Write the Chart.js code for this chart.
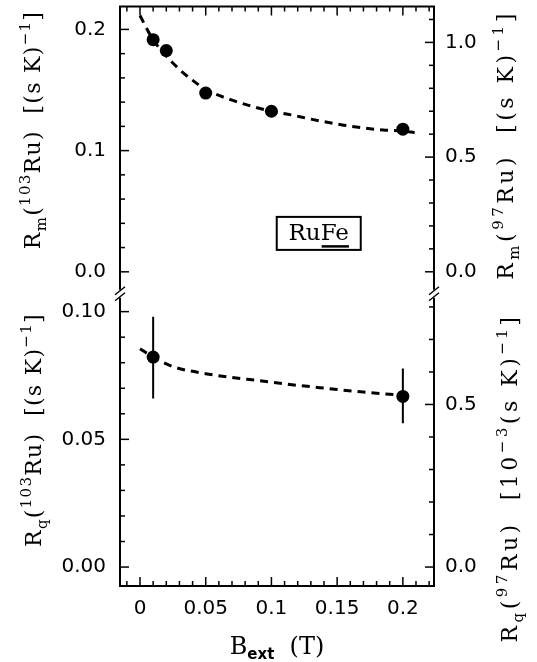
<!DOCTYPE html>
<html>
<head>
<meta charset="utf-8">
<script src="https://cdn.jsdelivr.net/npm/chart.js@4.4.1/dist/chart.umd.min.js"></script>
<style>
html, body { margin: 0; padding: 0; background: #fff; }
#wrap { position: relative; width: 537px; height: 662px; }
</style>
</head>
<body>
<div id="wrap"><canvas id="myChart"></canvas></div>
<script>
// upper panel: R_m(103Ru), measured points
var bM = [0.01, 0.02, 0.05, 0.1, 0.2];
var rM = [0.1915, 0.1825, 0.1475, 0.1325, 0.1177];
// upper panel: dashed fit curve
var fitBM = [0, 0.004, 0.01, 0.02, 0.03, 0.04, 0.05, 0.07, 0.085, 0.1, 0.115, 0.13, 0.155, 0.185, 0.2, 0.209];
var fitRM = [0.2115, 0.203, 0.1915, 0.178, 0.167, 0.158, 0.1505, 0.1416, 0.1366, 0.1325, 0.1295, 0.126, 0.121, 0.117, 0.1162, 0.1148];

// lower panel: R_q(103Ru), measured points with error bars
var bQ = [0.01, 0.2];
var rQ = [0.0822, 0.0668];
var rQlow = [0.066, 0.0563];
var rQhigh = [0.098, 0.0777];
// lower panel: dashed fit curve
var fitBQ = [0, 0.01, 0.025, 0.05, 0.07, 0.09, 0.11, 0.13, 0.15, 0.17, 0.2, 0.207];
var fitRQ = [0.0855, 0.0822, 0.0785, 0.0757, 0.0742, 0.073, 0.0717, 0.0706, 0.0695, 0.0685, 0.0673, 0.0671];

// tick labels
var xTicks = [0, 0.05, 0.1, 0.15, 0.2];
var xTickLabels = ["0", "0.05", "0.1", "0.15", "0.2"];
var yTLTicks = [0, 0.1, 0.2];
var yTLLabels = ["0.0", "0.1", "0.2"];
var yTRTicks = [0, 0.5, 1.0];
var yTRLabels = ["0.0", "0.5", "1.0"];
var yBLTicks = [0, 0.05, 0.1];
var yBLLabels = ["0.00", "0.05", "0.10"];
var yBRTicks = [0, 0.5];
var yBRLabels = ["0.0", "0.5"];

function pts(xs, ys) {
    return xs.map(function (x, i) { return { x: x, y: ys[i] }; });
}
function errPts(xs, lo, hi) {
    var out = [];
    xs.forEach(function (x, i) {
        out.push({ x: x, y: lo[i] }, { x: x, y: hi[i] }, { x: x, y: null });
    });
    return out;
}
function fixedTicks(vals, labels) {
    return {
        afterBuildTicks: function (s) { s.ticks = vals.map(function (v) { return { value: v }; }); },
        callback: function (v) { var i = vals.indexOf(v); return i < 0 ? "" : labels[i]; }
    };
}

var tickFont = { family: "DejaVu Sans", size: 20 };
var serif = "DejaVu Serif";

function yAxis(pos, stackWeight, min, max, vals, labels, pad) {
    var ft = fixedTicks(vals, labels);
    return {
        type: "linear", position: pos, stack: "panels", stackWeight: stackWeight,
        min: min, max: max,
        grid: { display: false, drawTicks: false },
        border: { display: false },
        afterBuildTicks: ft.afterBuildTicks,
        afterFit: function (s) {
            s.width = pos === "left" ? 120 : 103;
            s.paddingTop = 0; s.paddingBottom = 0;
        },
        ticks: { font: tickFont, color: "#000", padding: pad, callback: ft.callback }
    };
}

// little helpers for the plugin
function steps(min, max, step) {
    var out = [];
    for (var k = Math.ceil(min / step - 1e-6); k * step <= max + 1e-9; k++) out.push(Math.round(k * step * 1e6) / 1e6);
    return out;
}
function line(ctx, x1, y1, x2, y2) {
    ctx.beginPath(); ctx.moveTo(x1, y1); ctx.lineTo(x2, y2); ctx.stroke();
}
function drawRich(ctx, runs, px, py, size, spacing) {
    ctx.save();
    ctx.translate(px, py);
    ctx.rotate(-Math.PI / 2);
    var small = Math.round(size * 0.66);
    function fontOf(k) {
        if (k === "b") return "bold " + small + "px 'DejaVu Sans'";
        return (k === "n" ? size : small) + "px '" + serif + "'";
    }
    function dyOf(k) { return k === "sub" || k === "b" ? size * 0.28 : (k === "sup" ? -size * 0.45 : 0); }
    var total = 0;
    runs.forEach(function (r) {
        ctx.font = fontOf(r[1]);
        for (var c of r[0]) total += ctx.measureText(c).width + spacing;
    });
    var x = -total / 2;
    ctx.fillStyle = "#000";
    ctx.textBaseline = "alphabetic";
    runs.forEach(function (r) {
        ctx.font = fontOf(r[1]);
        for (var c of r[0]) {
            ctx.fillText(c, x, dyOf(r[1]));
            x += ctx.measureText(c).width + spacing;
        }
    });
    ctx.restore();
}

var framePlugin = {
    id: "frame",
    afterDraw: function (chart) {
        var ctx = chart.ctx, a = chart.chartArea, sc = chart.scales;
        var split = sc.yTL.bottom;
        ctx.save();
        ctx.strokeStyle = "#000";
        ctx.lineCap = "butt";
        // frame
        ctx.lineWidth = 2;
        line(ctx, a.left - 1, a.top, a.right + 1, a.top);
        line(ctx, a.left - 1, a.bottom, a.right + 1, a.bottom);
        [a.left, a.right].forEach(function (x) {
            line(ctx, x, a.top, x, split - 4);
            line(ctx, x, split + 4, x, a.bottom);
            ctx.lineWidth = 1.5;
            line(ctx, x - 5, split + 1, x + 5, split - 7);
            line(ctx, x - 5, split + 7, x + 5, split - 1);
            ctx.lineWidth = 2;
        });
        // x ticks, top and bottom
        ctx.lineWidth = 1.5;
        steps(sc.x.min, sc.x.max, 0.01).forEach(function (v) {
            var px = sc.x.getPixelForValue(v);
            var len = xTicks.some(function (t) { return Math.abs(t - v) < 1e-6; }) ? 9 : 5;
            line(ctx, px, a.top, px, a.top + len);
            line(ctx, px, a.bottom, px, a.bottom - len);
        });
        // y ticks, pointing inward
        [["yTL", 0.02, yTLTicks, a.left, 1], ["yTR", 0.1, yTRTicks, a.right, -1],
         ["yBL", 0.01, yBLTicks, a.left, 1], ["yBR", 0.1, yBRTicks, a.right, -1]].forEach(function (d) {
            var s = sc[d[0]];
            steps(s.min, s.max, d[1]).forEach(function (v) {
                var py = s.getPixelForValue(v);
                if (py < s.top + 2 || py > s.bottom - 2) return;
                var len = d[2].some(function (t) { return Math.abs(t - v) < 1e-6; }) ? 9 : 5;
                line(ctx, d[3], py, d[3] + d[4] * len, py);
            });
        });
        // RuFe label box
        var bx = sc.x.getPixelForValue(0.136), by = sc.yTL.getPixelForValue(0.0317);
        ctx.lineWidth = 2;
        ctx.strokeRect(bx - 42, by - 16.5, 84, 33);
        ctx.font = "23px '" + serif + "'";
        ctx.fillStyle = "#000";
        ctx.textBaseline = "alphabetic";
        ctx.textAlign = "left";
        var wRu = ctx.measureText("Ru").width, wFe = ctx.measureText("Fe").width;
        var tx = bx - (wRu + wFe) / 2;
        ctx.fillText("Ru", tx, by + 7);
        ctx.fillText("Fe", tx + wRu, by + 7);
        ctx.lineWidth = 2.5;
        line(ctx, tx + wRu + 1, by + 13, tx + wRu + wFe, by + 13);
        // axis titles
        drawRich(ctx, [["R", "n"], ["m", "sub"], ["(", "n"], ["103", "sup"], ["Ru)  [(s K)", "n"], ["\u22121", "sup"], ["]", "n"]], 40, 130, 22, 1.3);
        drawRich(ctx, [["R", "n"], ["q", "sub"], ["(", "n"], ["103", "sup"], ["Ru)  [(s K)", "n"], ["\u22121", "sup"], ["]", "n"]], 41, 430, 22, 1.3);
        drawRich(ctx, [["R", "n"], ["m", "sub"], ["(", "n"], ["97", "sup"], ["Ru)  [(s K)", "n"], ["\u22121", "sup"], ["]", "n"]], 513, 145, 22, 3.5);
        drawRich(ctx, [["R", "n"], ["q", "sub"], ["(", "n"], ["97", "sup"], ["Ru)  [10", "n"], ["\u22123", "sup"], ["(s K)", "n"], ["\u22121", "sup"], ["]", "n"]], 517, 478, 22, 3.5);
        ctx.restore();
        // x title
        ctx.save();
        ctx.fillStyle = "#000";
        ctx.textBaseline = "alphabetic";
        ctx.font = "24px '" + serif + "'";
        var wB = ctx.measureText("B").width, wT = ctx.measureText("  (T)").width;
        ctx.font = "bold 15px 'DejaVu Sans'";
        var wE = ctx.measureText("ext").width;
        var sx = 277 - (wB + wE + wT) / 2;
        ctx.font = "24px '" + serif + "'";
        ctx.fillText("B", sx, 654);
        ctx.fillText("  (T)", sx + wB + wE, 654);
        ctx.font = "bold 15px 'DejaVu Sans'";
        ctx.fillText("ext", sx + wB, 659);
        ctx.restore();
    }
};

var ctx = document.getElementById("myChart");
var myChart = new Chart(ctx, {
    type: "line",
    data: {
        datasets: [
            {
                data: pts(fitBM, fitRM), yAxisID: "yTL",
                borderColor: "#000", borderWidth: 3, borderDash: [8, 6],
                pointRadius: 0, cubicInterpolationMode: "monotone"
            },
            {
                data: pts(bM, rM), yAxisID: "yTL", showLine: false,
                pointRadius: 6.5, pointBackgroundColor: "#000", pointBorderWidth: 0
            },
            {
                data: pts(fitBQ, fitRQ), yAxisID: "yBL",
                borderColor: "#000", borderWidth: 3, borderDash: [8, 6],
                pointRadius: 0, cubicInterpolationMode: "monotone"
            },
            {
                data: errPts(bQ, rQlow, rQhigh), yAxisID: "yBL",
                borderColor: "#000", borderWidth: 2, pointRadius: 0, spanGaps: false
            },
            {
                data: pts(bQ, rQ), yAxisID: "yBL", showLine: false,
                pointRadius: 6.5, pointBackgroundColor: "#000", pointBorderWidth: 0
            }
        ]
    },
    options: {
        responsive: true,
        maintainAspectRatio: false,
        animation: false,
        layout: { padding: { top: 5, left: 0, right: 0, bottom: 0 } },
        plugins: { legend: { display: false }, tooltip: { enabled: false } },
        scales: {
            x: {
                type: "linear", position: "bottom", min: -0.01522, max: 0.2237,
                grid: { display: false, drawTicks: false },
                border: { display: false },
                afterBuildTicks: fixedTicks(xTicks, xTickLabels).afterBuildTicks,
                afterFit: function (s) { s.height = 76; s.paddingLeft = 0; s.paddingRight = 0; },
                ticks: { font: tickFont, color: "#000", padding: 11, maxRotation: 0,
                         callback: fixedTicks(xTicks, xTickLabels).callback }
            },
            yBL: yAxis("left", 293, -0.00742, 0.1070, yBLTicks, yBLLabels, 14),
            yTL: yAxis("left", 288, -0.0181, 0.2189, yTLTicks, yTLLabels, 14),
            yTR: yAxis("right", 288, -0.0957, 1.1565, yTRTicks, yTRLabels, 11),
            yBR: yAxis("right", 293, -0.0583, 0.8405, yBRTicks, yBRLabels, 11)
        }
    },
    plugins: [framePlugin]
});
</script>
</body>
</html>
